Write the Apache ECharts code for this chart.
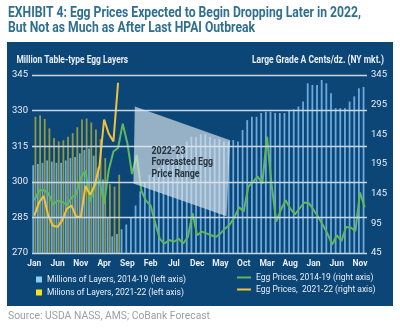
<!DOCTYPE html>
<html><head><meta charset="utf-8">
<script src="https://cdn.jsdelivr.net/npm/echarts@6/dist/echarts.min.js"></script>
<style>html,body{margin:0;padding:0;background:#fff}#c{width:400px;height:329px}</style>
</head><body><div id="c"></div>
<script>
// ---------- data ----------
const years = ['2014','2015','2016','2017','2018','2019'];
const months = ['Jan','Feb','Mar','Apr','May','Jun','Jul','Aug','Sep','Oct','Nov','Dec'];
const categories = years.flatMap(y => months.map(m => m + ' ' + y));
const leftTicks = [270, 285, 300, 315, 330, 345];
const rightTickLabels = ['45', '95', '145', '195', '145', '295', '345'];

const layers1419 = [307,307.5,308,309,308.5,308,308,309,310,310.5,312,313.4,
  314,311,306,301,285,277,278,280,282,285,290,296,
  300,303,305,306,307,309,310,312,315,317,319,319,
  320,320,319,318,318,317,317,317.6,317,321.8,326,327.4,
  327.4,329,329.5,329.5,329,329,329,330,330.5,331.7,333.8,341.5,
  340.8,340.8,342.9,341.5,337.3,331,331,331,333.8,336,339.4,340];
const layers2122 = [327.4,328,326.5,322.5,318.5,317,317.5,319,320.5,323,326.3,326.7,
  325,322,318,310,299,298,303];
const prices1419 = [134,150,151,146,127,133,131,126,138,144,172,184,
  132,158,168,128,185,216,222,263,230,178,210,150,
  133,125,95,68,61,67,64,69,61,72,112,75,
  81,78,75,72,78,86,93,105,122,115,157,165,
  174,162,241,160,98,118,134,120,110,120,130,129,
  118,106,92,78,59,75,65,89,88,82,147,122];
const prices2122 = [108,130,141,108,91,89,100,120,125,106,106,158,
  143,160,192,270,246,233,332];
// forecast range polygon: month index (on 72-month axis) and price (right axis)
const forecastIdx = [21.6, 42.1, 41.3, 21.3];
const forecastPrice = [292, 235, 107, 162];

const names = ['Millions of Layers, 2014-19 (left axis)', 'Milions of Layers, 2021-22 (left axis)',
  'Egg Prices, 2014-19 (right axis)', 'Egg Prices,  2021-22 (right axis)'];

// ---------- helpers ----------
const mctx = document.createElement('canvas').getContext('2d');
function measure(text, font){ mctx.font = font; return mctx.measureText(text).width; }
function fitText(text, x, y, font, target, fill, extra){
  const s = target / measure(text, font);
  return Object.assign({type:'text', x:x, y:y, scaleX:s, z:20, silent:true,
    style:{text:text, font:font, fill:fill, align:'left', verticalAlign:'middle'}}, extra||{});
}
const FF = 'Roboto, "Noto Sans", sans-serif';
const white = '#e9eef4';
const green = '#5fb760';
const yellow = '#f3c23a';

const chart = echarts.init(document.getElementById('c'), null, {renderer:'canvas'});
const fcFont = 'bold 10px ' + FF;
const fcScale = 61.6 / measure('Forecasted Egg', fcFont);

chart.setOption({
  animation:false,
  backgroundColor:'#ffffff',
  grid:{left:32, right:33, top:75, bottom:76, containLabel:false},
  xAxis:[
    {type:'category', data:categories, boundaryGap:true,
     axisLine:{show:false}, axisTick:{show:false},
     axisLabel:{interval:4, color:white, fontSize:8.5, fontWeight:'bold', fontFamily:FF, margin:6,
       formatter:v => v.split(' ')[0]},
     splitLine:{show:false}},
    {type:'value', min:-0.5, max:71.5, show:false}
  ],
  yAxis:[
    {type:'value', min:270, max:345, interval:15, position:'left',
     axisLine:{show:false}, axisTick:{show:false}, splitLine:{show:false},
     axisLabel:{color:white, fontSize:9.5, fontFamily:FF, margin:4}},
    {type:'value', min:45, max:345, interval:50, position:'right',
     axisLine:{show:false}, axisTick:{show:false}, splitLine:{show:false},
     axisLabel:{color:white, fontSize:9.5, fontFamily:FF, margin:4,
       formatter:v => rightTickLabels[Math.round((v-45)/50)]}}
  ],
  legend:[
    {orient:'vertical', left:31, top:270, itemWidth:6, itemHeight:6, itemGap:4,
     textStyle:{color:white, fontSize:8.5, fontFamily:FF},
     data:[{name:names[0], icon:'rect', itemStyle:{color:'#8ccbf2'}},
           {name:names[1], icon:'rect', itemStyle:{color:'#f2e21c'}}]},
    {orient:'vertical', left:232, top:268, itemWidth:14, itemHeight:2, itemGap:3,
     textStyle:{color:white, fontSize:8.5, fontFamily:FF},
     data:[{name:names[2], icon:'rect', itemStyle:{color:green}},
           {name:names[3], icon:'rect', itemStyle:{color:yellow}}]}
  ],
  series:[
    {name:names[0], type:'bar', data:layers1419, barWidth:1.8, barGap:'25%',
     itemStyle:{color:'#6ea9dc'}, silent:true},
    {name:names[1], type:'bar', data:layers2122, barWidth:1.8, barGap:'25%',
     itemStyle:{color:'#8f9a48'}, silent:true,
     markLine:{silent:true, symbol:['none','none'], label:{show:false},
       lineStyle:{color:'#c9d6e2', width:1.3, type:'solid'},
       emphasis:{disabled:true},
       data:leftTicks.map(v => ({yAxis:v}))}},
    {name:names[2], type:'line', yAxisIndex:1, data:prices1419, symbol:'none',
     lineStyle:{color:green, width:2}, itemStyle:{color:green}, silent:true},
    {name:names[3], type:'line', yAxisIndex:1, data:prices2122, symbol:'none',
     lineStyle:{color:yellow, width:2}, itemStyle:{color:yellow}, silent:true},
    {type:'custom', xAxisIndex:1, yAxisIndex:1, z:5, silent:true,
     data:forecastIdx.map((x,i) => [x, forecastPrice[i]]),
     renderItem:(params, api) => {
       if (params.dataIndex !== 0) return null;
       const pts = forecastIdx.map((x,i) => api.coord([x, forecastPrice[i]]));
       return {type:'polygon', shape:{points:pts}, style:{fill:'rgba(222,230,238,0.66)'}};
     }}
  ],
  graphic:[
    {type:'rect', z:-5, silent:true, shape:{x:7, y:42, width:386, height:264}, style:{fill:'#0c4677'}},
    fitText('EXHIBIT 4: Egg Prices Expected to Begin Dropping Later in 2022,', 8, 13.5, 'bold 14px ' + FF, 353, '#2f6f90'),
    fitText('But Not as Much as After Last HPAI Outbreak', 8, 28, 'bold 14px ' + FF, 247, '#2f6f90'),
    fitText('Million Table-type Egg Layers', 16.5, 60, 'bold 10px ' + FF, 111.6, white),
    fitText('Large Grade A Cents/dz. (NY mkt.)', 252, 60, 'bold 10px ' + FF, 132, white),
    {type:'text', x:151.5, y:151, scaleX:fcScale, z:20, silent:true,
     style:{text:'2022-23', font:fcFont, fill:'#27323d', verticalAlign:'middle'}},
    {type:'text', x:151.5, y:162.7, scaleX:fcScale, z:20, silent:true,
     style:{text:'Forecasted Egg', font:fcFont, fill:'#27323d', verticalAlign:'middle'}},
    {type:'text', x:151.5, y:174.3, scaleX:fcScale, z:20, silent:true,
     style:{text:'Price Range', font:fcFont, fill:'#27323d', verticalAlign:'middle'}},
    fitText('Source: USDA NASS, AMS; CoBank Forecast', 8, 316, '11px ' + FF, 202, '#9a9fa4')
  ]
});
</script></body></html>
